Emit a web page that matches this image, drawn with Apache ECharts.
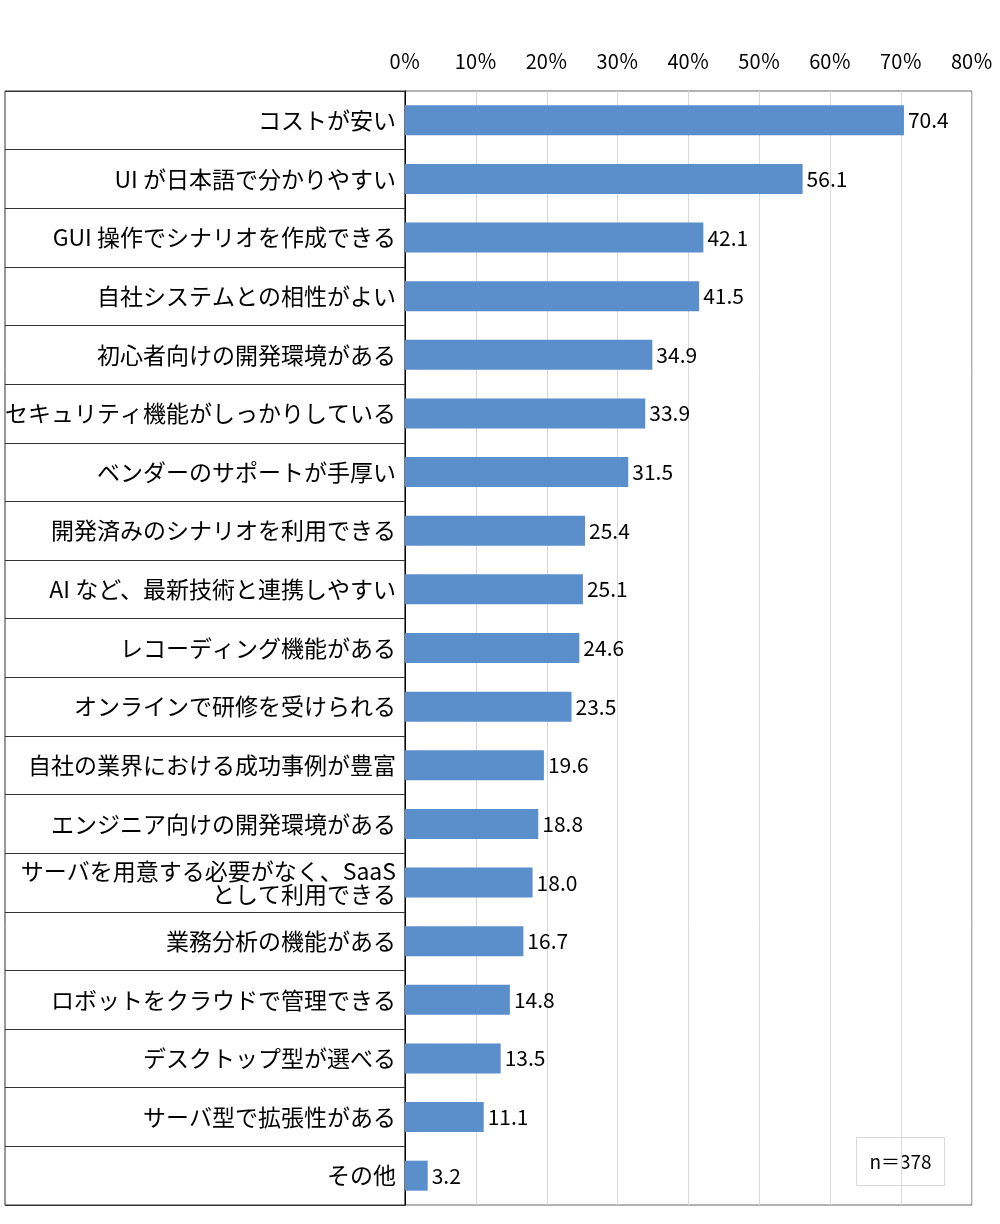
<!DOCTYPE html>
<html>
<head>
<meta charset="utf-8">
<script src="https://cdn.jsdelivr.net/npm/echarts@6/dist/echarts.min.js"></script>
<style>
  html, body { margin: 0; padding: 0; background: #fff; }
  #chart { width: 1000px; height: 1224px; }
</style>
</head>
<body>
<div id="chart"></div>
<script>
// 選定理由（複数回答, %）
const categories = [
  'コストが安い',
  'UI が日本語で分かりやすい',
  'GUI 操作でシナリオを作成できる',
  '自社システムとの相性がよい',
  '初心者向けの開発環境がある',
  'セキュリティ機能がしっかりしている',
  'ベンダーのサポートが手厚い',
  '開発済みのシナリオを利用できる',
  'AI など、最新技術と連携しやすい',
  'レコーディング機能がある',
  'オンラインで研修を受けられる',
  '自社の業界における成功事例が豊富',
  'エンジニア向けの開発環境がある',
  'サーバを用意する必要がなく、SaaS\nとして利用できる',
  '業務分析の機能がある',
  'ロボットをクラウドで管理できる',
  'デスクトップ型が選べる',
  'サーバ型で拡張性がある',
  'その他'
];
const values = [70.4, 56.1, 42.1, 41.5, 34.9, 33.9, 31.5, 25.4, 25.1, 24.6, 23.5, 19.6, 18.8, 18.0, 16.7, 14.8, 13.5, 11.1, 3.2];
const sampleNote = 'n＝378';

const font = '"Noto Sans CJK JP", sans-serif';
const chart = echarts.init(document.getElementById('chart'));

chart.setOption({
  textStyle: { fontFamily: font },
  animation: false,
  grid: [
    { left: 405, right: 28, top: 91, bottom: 19, show: true, borderColor: '#666', borderWidth: 1 },
    { left: 5, width: 400, top: 91, bottom: 19, show: true, borderColor: '#333', borderWidth: 1 }
  ],
  xAxis: [
    {
      gridIndex: 0, type: 'value', position: 'top', min: 0, max: 80, interval: 10,
      axisLine: { show: false }, axisTick: { show: false },
      axisLabel: { formatter: '{value}％', fontFamily: font, fontSize: 20, color: '#000', margin: 20 },
      splitLine: { lineStyle: { color: '#d9d9d9' } }
    },
    { gridIndex: 1, type: 'value', show: false, min: 0, max: 1 }
  ],
  yAxis: [
    {
      gridIndex: 0, type: 'category', inverse: true, data: categories,
      axisLine: { show: true, lineStyle: { color: '#000' } },
      axisTick: { show: false }, axisLabel: { show: false }
    },
    {
      gridIndex: 1, type: 'category', inverse: true, data: categories, position: 'right',
      axisLine: { show: false }, axisTick: { show: false },
      axisLabel: { inside: true, margin: 9, fontFamily: font, fontSize: 23, color: '#000', lineHeight: 23 },
      splitLine: { show: true, lineStyle: { color: '#333' } }
    }
  ],
  series: [{
    type: 'bar', xAxisIndex: 0, yAxisIndex: 0, data: values, barWidth: 30,
    itemStyle: { color: '#5b8fcc' },
    label: {
      show: true, position: 'right', distance: 4, fontFamily: font, fontSize: 21, color: '#000',
      formatter: p => p.value.toFixed(1)
    }
  }],
  graphic: [{
    type: 'group', left: 856, top: 1137,
    children: [
      { type: 'rect', shape: { x: 0, y: 0, width: 88, height: 48 },
        style: { fill: '#fff', stroke: '#d9d9d9', lineWidth: 1 } },
      { type: 'text', x: 44, y: 24,
        style: { text: sampleNote, fontSize: 19, fill: '#000', fontFamily: font, align: 'center', verticalAlign: 'middle' } }
    ]
  }]
});
</script>
</body>
</html>
